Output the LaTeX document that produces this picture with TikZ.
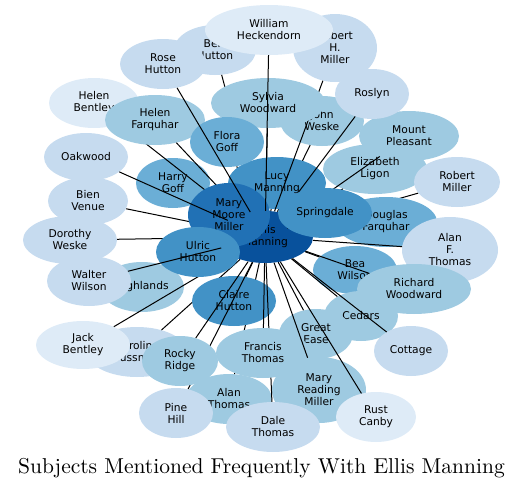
\documentclass[tikz,border=0pt]{standalone}
\usepackage{fontspec}
\newfontfamily\nodefont{DejaVu Sans}
\newfontfamily\titlefont{lmroman10-regular}[Extension=.otf]
\usetikzlibrary{shapes.geometric}
\pgfdeclarelayer{l0}\pgfdeclarelayer{l1}\pgfdeclarelayer{l2}\pgfdeclarelayer{l3}
\pgfdeclarelayer{l4}\pgfdeclarelayer{l5}\pgfdeclarelayer{l6}
\pgfsetlayers{l0,l1,l2,l3,l4,l5,l6,main}
\definecolor{cA}{HTML}{DEEBF7}
\definecolor{cB}{HTML}{C6DBEF}
\definecolor{cC}{HTML}{9ECAE1}
\definecolor{cD}{HTML}{6BAED6}
\definecolor{cE}{HTML}{4292C6}
\definecolor{cF}{HTML}{2171B5}
\definecolor{cG}{HTML}{08519C}
\tikzset{
  bub/.style={ellipse, draw=none, inner sep=0pt, align=center,
    font=\nodefont\fontsize{10.7}{12}\selectfont},
  link/.style={draw=black, line width=1pt},
  ttl/.style={font=\titlefont\fontsize{21.5}{24}\selectfont, inner sep=0pt, anchor=base}
}
% rank, name, x, y, width, height, colour, label
\newcommand{\mynode}[8]{\begin{pgfonlayer}{l#1}\node[bub, fill=#7, minimum width=#5pt, minimum height=#6pt] (#2) at (#3,#4) {#8};\end{pgfonlayer}}
\newcommand{\myedge}[2]{\begin{pgfonlayer}{l#1}\draw[link] (ellis) -- (#2);\end{pgfonlayer}}
\begin{document}
\begin{tikzpicture}[x=1pt,y=-1pt]
\useasboundingbox (0,0) rectangle (523,488);
% nodes
\mynode{0}{ellis}{265}{237}{96}{52}{cG}{Ellis\\Manning}
\mynode{1}{betty}{215}{50}{82}{50}{cB}{Bert\\Hutton}
\mynode{1}{rhm}{335}{48}{84}{68}{cB}{Robert\\H.\\Miller}
\mynode{1}{hb}{94}{103}{90}{50}{cA}{Helen\\Bentley}
\mynode{1}{john}{322}{121}{84}{50}{cC}{John\\Weske}
\mynode{1}{mountp}{409}{136}{100}{50}{cC}{Mount\\Pleasant}
\mynode{1}{oak}{86}{157}{84}{48}{cB}{Oakwood}
\mynode{1}{harry}{173}{183}{74}{50}{cD}{Harry\\Goff}
\mynode{1}{bien}{88}{201}{80}{48}{cB}{Bien\\Venue}
\mynode{1}{dorothy}{70}{240}{94}{48}{cB}{Dorothy\\Weske}
\mynode{1}{bea}{355}{270}{84}{48}{cD}{Bea\\Wilson}
\mynode{1}{highlands}{142}{287}{84}{50}{cC}{Highlands}
\mynode{1}{cedars}{361}{316}{74}{50}{cC}{Cedars}
\mynode{1}{caroline}{137}{352}{100}{50}{cB}{Caroline\\Bussman}
\mynode{1}{ge}{316}{334}{74}{50}{cC}{Great\\Ease}
\mynode{1}{mrm}{319}{390}{94}{66}{cC}{Mary\\Reading\\Miller}
\mynode{1}{alant}{229}{399}{86}{50}{cC}{Alan\\Thomas}
\mynode{2}{rose}{163}{64}{86}{50}{cB}{Rose\\Hutton}
\mynode{2}{roslyn}{372}{94}{74}{50}{cB}{Roslyn}
\mynode{2}{lucy}{277}{183}{98}{52}{cE}{Lucy\\Manning}
\mynode{2}{eliz}{375}{169}{104}{50}{cC}{Elizabeth\\Ligon}
\mynode{2}{walter}{89}{281}{84}{50}{cB}{Walter\\Wilson}
\mynode{2}{claire}{234}{301}{84}{50}{cE}{Claire\\Hutton}
\mynode{2}{jack}{83}{345}{94}{48}{cA}{Jack\\Bentley}
\mynode{2}{cottage}{411}{351}{74}{50}{cB}{Cottage}
\mynode{3}{william}{269}{30}{128}{50}{cA}{William\\Heckendorn}
\mynode{3}{hf}{155}{120}{100}{50}{cC}{Helen\\Farquhar}
\mynode{3}{rm}{457}{182}{86}{50}{cB}{Robert\\Miller}
\mynode{3}{dale}{273}{427}{94}{50}{cB}{Dale\\Thomas}
\mynode{4}{sylvia}{268}{103}{114}{50}{cC}{Sylvia\\Woodward}
\mynode{4}{flora}{227}{142}{74}{50}{cD}{Flora\\Goff}
\mynode{4}{mmm}{229}{215}{82}{64}{cF}{Mary\\Moore\\Miller}
\mynode{4}{douglas}{386}{222}{102}{50}{cD}{Douglas\\Farquhar}
\mynode{4}{rocky}{180}{361}{76}{50}{cC}{Rocky\\Ridge}
\mynode{4}{francis}{263}{353}{94}{50}{cC}{Francis\\Thomas}
\mynode{4}{pine}{176}{413}{74}{50}{cB}{Pine\\Hill}
\mynode{5}{spring}{325}{213}{94}{50}{cE}{Springdale}
\mynode{5}{ulric}{198}{252}{84}{50}{cE}{Ulric\\Hutton}
\mynode{5}{alanf}{450}{250}{96}{66}{cB}{Alan\\F.\\Thomas}
\mynode{6}{richard}{414}{289}{114}{50}{cC}{Richard\\Woodward}
\mynode{6}{rust}{376}{417}{80}{50}{cA}{Rust\\Canby}
% edges
\myedge{0}{mmm}\myedge{0}{spring}\myedge{0}{ulric}
\myedge{1}{betty}\myedge{1}{bien}\myedge{1}{dorothy}\myedge{1}{highlands}
\myedge{1}{caroline}\myedge{1}{alant}\myedge{1}{ge}\myedge{1}{bea}
\myedge{1}{john}\myedge{1}{sylvia}\myedge{1}{flora}\myedge{1}{harry}
\myedge{1}{lucy}\myedge{1}{claire}
\myedge{2}{hb}\myedge{2}{jack}\myedge{2}{cottage}\myedge{2}{cedars}\myedge{2}{rm}
\myedge{3}{hf}\myedge{3}{pine}\myedge{3}{dale}\myedge{3}{eliz}\myedge{3}{mountp}\myedge{3}{rhm}
\myedge{4}{rocky}\myedge{4}{francis}\myedge{4}{douglas}\myedge{4}{roslyn}
\myedge{5}{william}\myedge{5}{rose}\myedge{5}{oak}\myedge{5}{mrm}\myedge{5}{rust}\myedge{5}{alanf}
\myedge{6}{walter}\myedge{6}{richard}
% title
\node[ttl] (title) at (261.5,473) {Subjects Mentioned Frequently With Ellis Manning};
\end{tikzpicture}
\end{document}
